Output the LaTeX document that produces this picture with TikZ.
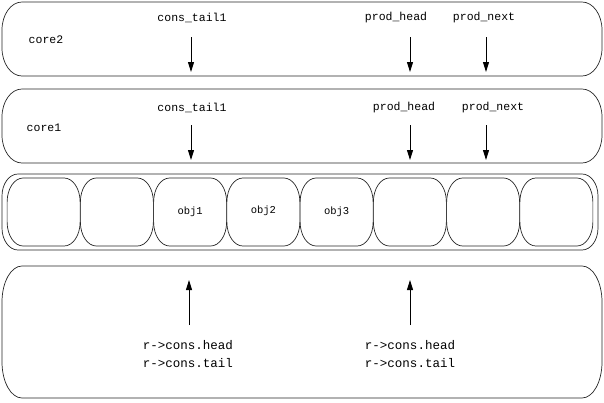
\documentclass[tikz,border=0pt]{standalone}
\usepackage{fontspec}
\setmonofont{Liberation Mono}
\usetikzlibrary{arrows.meta}

\newlength{\du}
\setlength{\du}{1pt}

% capsule outline round a named box: #1 node, #2 x radius, #3 y radius
\newcommand{\capsule}[3]{%
\draw[outline] ([xshift=#2]#1.north west)--([xshift=-#2]#1.north east)
  arc[start angle=90,end angle=0,x radius=#2,y radius=#3]
  --([yshift=#3]#1.south east)
  arc[start angle=0,end angle=-90,x radius=#2,y radius=#3]
  --([xshift=#2]#1.south west)
  arc[start angle=270,end angle=180,x radius=#2,y radius=#3]
  --([yshift=-#3]#1.north west)
  arc[start angle=180,end angle=90,x radius=#2,y radius=#3]--cycle;}

\tikzset{
  box/.style={rectangle,inner sep=0pt,outer sep=0pt,draw=none},
  outline/.style={line width=0.7\du,draw=black!85},
  lbl/.style={inner sep=0pt,font=\ttfamily\fontsize{11.5}{15}\selectfont},
  objlbl/.style={inner sep=0pt,font=\ttfamily\fontsize{10.5}{12}\selectfont},
  ptr/.style={line width=0.9pt,-{Triangle[length=10pt,width=6pt]}}
}

\begin{document}
\begin{tikzpicture}
\useasboundingbox (0\du,0\du) rectangle (604\du,-402\du);

% the boxes
\node[box,minimum width=600\du,minimum height=74\du] (core2) at (302\du,-39\du) {};
\node[box,minimum width=600\du,minimum height=74\du] (core1) at (302\du,-126\du) {};
\node[box,minimum width=596\du,minimum height=76\du] (ring) at (300\du,-212\du) {};
\node[box,minimum width=600\du,minimum height=132\du] (cons) at (302\du,-332\du) {};
\capsule{core2}{20\du}{28\du}
\capsule{core1}{20\du}{28\du}
\capsule{ring}{16\du}{22\du}
\capsule{cons}{20\du}{36\du}

% ring slots
\foreach \i in {1,...,8}{
  \node[box,minimum width=73\du,minimum height=68\du] (slot\i) at ({(7+73.25*(\i-0.5))*\du},-212\du) {};
  \capsule{slot\i}{16\du}{24\du}
}
\node[objlbl] (obj1) at (slot3) {obj1};
\node[objlbl] (obj2) at ([yshift=1\du]slot4.center) {obj2};
\node[objlbl] (obj3) at (slot5) {obj3};

% core2
\node[lbl] (core2name) at (46\du,-40\du) {core2};
\node[lbl] (c2tail) at (192\du,-18\du) {cons\_tail1};
\node[lbl] (c2head) at (396\du,-18\du) {prod\_head};
\node[lbl] (c2next) at (484\du,-18\du) {prod\_next};
\coordinate (c2a) at (191\du,-37\du);
\coordinate (c2b) at (410\du,-37\du);
\coordinate (c2c) at (486\du,-37\du);
\coordinate (c2ae) at (191\du,-72\du);
\coordinate (c2be) at (410\du,-72\du);
\coordinate (c2ce) at (486\du,-72\du);
\draw[ptr] (c2a)--(c2ae);
\draw[ptr] (c2b)--(c2be);
\draw[ptr] (c2c)--(c2ce);

% core1
\node[lbl] (core1name) at (44\du,-128\du) {core1};
\node[lbl] (c1tail) at (192\du,-108\du) {cons\_tail1};
\node[lbl] (c1head) at (404\du,-108\du) {prod\_head};
\node[lbl] (c1next) at (493\du,-108\du) {prod\_next};
\coordinate (c1a) at (191\du,-125\du);
\coordinate (c1b) at (410\du,-125\du);
\coordinate (c1c) at (486\du,-125\du);
\coordinate (c1ae) at (191\du,-160\du);
\coordinate (c1be) at (410\du,-160\du);
\coordinate (c1ce) at (486\du,-160\du);
\draw[ptr] (c1a)--(c1ae);
\draw[ptr] (c1b)--(c1be);
\draw[ptr] (c1c)--(c1ce);

% consumer side
\node[lbl,align=left,font=\ttfamily\fontsize{12.5}{18}\selectfont] (headtail1) at (188\du,-354\du) {r->cons.head\\r->cons.tail};
\node[lbl,align=left,font=\ttfamily\fontsize{12.5}{18}\selectfont] (headtail2) at (410\du,-354\du) {r->cons.head\\r->cons.tail};
\coordinate (ca) at (189\du,-325\du);
\coordinate (cb) at (410\du,-325\du);
\coordinate (cae) at (189\du,-280\du);
\coordinate (cbe) at (410\du,-280\du);
\draw[ptr] (ca)--(cae);
\draw[ptr] (cb)--(cbe);
\end{tikzpicture}
\end{document}
